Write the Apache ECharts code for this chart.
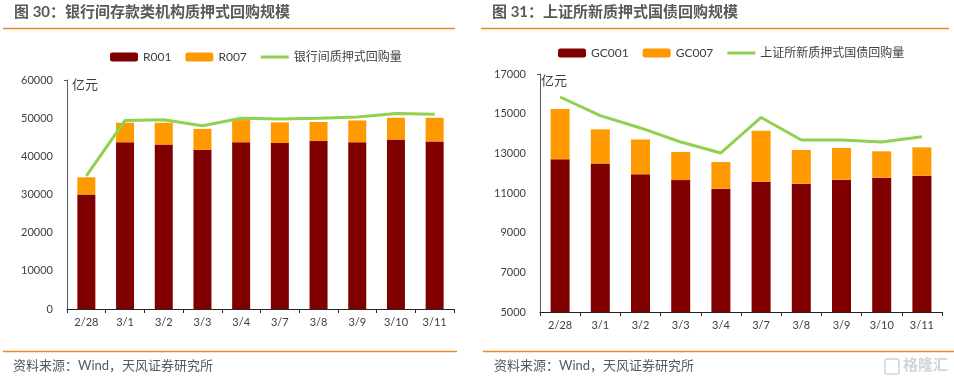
<!DOCTYPE html>
<html>
<head>
<meta charset="utf-8">
<script src="https://cdn.jsdelivr.net/npm/echarts@6/dist/echarts.min.js"></script>
<style>html,body{margin:0;padding:0;background:#fff}#c{width:954px;height:381px}</style>
</head>
<body>
<div id="c"></div>
<script>
const categories = ['2/28','3/1','3/2','3/3','3/4','3/7','3/8','3/9','3/10','3/11'];
// Left chart (亿元)
const r001 = [30000,43700,43100,41700,43700,43500,44000,43700,44400,43900];
const r007 = [4500,5100,5700,5500,5800,5400,5000,5700,5700,6200];
const ibRepo = [34900,49400,49600,48000,50000,49800,50000,50300,51200,51000];
const leftTicks = [0,10000,20000,30000,40000,50000,60000];
// Right chart (亿元)
const gc001 = [12700,12490,11940,11650,11220,11570,11470,11670,11770,11870];
const gc007 = [2540,1720,1760,1420,1340,2570,1700,1600,1330,1430];
const shRepo = [15840,14900,14280,13570,13020,14810,13670,13670,13570,13840];
const rightTicks = [5000,7000,9000,11000,13000,15000,17000];

const FONT = 'Lato, "Noto Sans CJK SC", sans-serif';
const C1 = '#800000', C2 = '#FF9900', CL = '#92D050', ORANGE = '#F0861E', TXT = '#404040';
const LINE_ICON = 'path://M0,0 L28,0 L28,3 L0,3 Z';

const chart = echarts.init(document.getElementById('c'));

function xAxis(gi){
  return {
    type:'category', gridIndex:gi, data:categories, boundaryGap:true,
    axisLine:{lineStyle:{color:'#262626',width:1}},
    axisTick:{show:true,alignWithLabel:false,length:4,lineStyle:{color:'#262626'}},
    axisLabel:{color:TXT,fontSize:11,fontFamily:FONT,margin:8}
  };
}
function yAxis(gi,ticks){
  return {
    type:'value', gridIndex:gi, min:ticks[0], max:ticks[ticks.length-1],
    splitLine:{show:false},
    axisLine:{show:true,lineStyle:{color:'#595959',width:1}},
    axisTick:{show:true,length:3,customValues:[ticks[ticks.length-1]],lineStyle:{color:'#595959'}},
    axisLabel:{color:TXT,fontSize:11,fontFamily:FONT,margin:14,customValues:ticks,
      formatter:function(v){return String(v);}}
  };
}

chart.setOption({
  animation:false,
  textStyle:{fontFamily:FONT},
  grid:[
    {left:67,top:80,width:387,height:229},
    {left:540,top:74,width:402,height:238}
  ],
  legend:[
    {left:110,top:51,padding:0,itemWidth:28,itemHeight:9,itemGap:14,
     textStyle:{color:TXT,fontSize:12,fontFamily:FONT},
     data:['R001','R007',{name:'银行间质押式回购量',icon:LINE_ICON}]},
    {left:558,top:47,padding:0,itemWidth:28,itemHeight:9,itemGap:14,
     textStyle:{color:TXT,fontSize:12,fontFamily:FONT},
     data:['GC001','GC007',{name:'上证所新质押式国债回购量',icon:LINE_ICON}]}
  ],
  xAxis:[xAxis(0),xAxis(1)],
  yAxis:[yAxis(0,leftTicks),yAxis(1,rightTicks)],
  series:[
    {name:'R001',type:'bar',xAxisIndex:0,yAxisIndex:0,stack:'a',data:r001,barWidth:18,itemStyle:{color:C1}},
    {name:'R007',type:'bar',xAxisIndex:0,yAxisIndex:0,stack:'a',data:r007,barWidth:18,itemStyle:{color:C2}},
    {name:'银行间质押式回购量',type:'line',xAxisIndex:0,yAxisIndex:0,data:ibRepo,symbol:'none',
     lineStyle:{color:CL,width:3},itemStyle:{color:CL}},
    {name:'GC001',type:'bar',xAxisIndex:1,yAxisIndex:1,stack:'b',data:gc001,barWidth:19,itemStyle:{color:C1}},
    {name:'GC007',type:'bar',xAxisIndex:1,yAxisIndex:1,stack:'b',data:gc007,barWidth:19,itemStyle:{color:C2}},
    {name:'上证所新质押式国债回购量',type:'line',xAxisIndex:1,yAxisIndex:1,data:shRepo,symbol:'none',
     lineStyle:{color:CL,width:3},itemStyle:{color:CL}}
  ],
  graphic:[
    {type:'text',left:14,top:5,style:{text:'图 30：银行间存款类机构质押式回购规模',fill:'#595959',font:'bold 15px '+FONT}},
    {type:'text',left:492,top:5,style:{text:'图 31：上证所新质押式国债回购规模',fill:'#595959',font:'bold 15px '+FONT}},
    {type:'line',shape:{x1:3,y1:28.5,x2:455,y2:28.5},style:{stroke:ORANGE,lineWidth:1.5}},
    {type:'line',shape:{x1:481,y1:28.5,x2:949,y2:28.5},style:{stroke:ORANGE,lineWidth:1.5}},
    {type:'text',left:72,top:78,style:{text:'亿元',fill:TXT,font:'13px '+FONT}},
    {type:'text',left:541,top:74,style:{text:'亿元',fill:TXT,font:'13px '+FONT}},
    {type:'line',shape:{x1:3,y1:351.5,x2:457,y2:351.5},style:{stroke:ORANGE,lineWidth:1.5}},
    {type:'line',shape:{x1:483,y1:351.5,x2:954,y2:351.5},style:{stroke:ORANGE,lineWidth:1.5}},
    {type:'text',left:13,top:359,style:{text:'资料来源：Wind，天风证券研究所',fill:'#595959',font:'13px '+FONT}},
    {type:'text',left:494,top:359,style:{text:'资料来源：Wind，天风证券研究所',fill:'#595959',font:'13px '+FONT}},
    {type:'rect',shape:{x:885,y:359,width:14,height:15,r:2},style:{fill:'none',stroke:'#d4d4d4',lineWidth:1.5}},
    {type:'text',left:903,top:358,style:{text:'格隆汇',fill:'#d4d4d4',font:'bold 15px '+FONT}}
  ]
});
</script>
</body>
</html>
